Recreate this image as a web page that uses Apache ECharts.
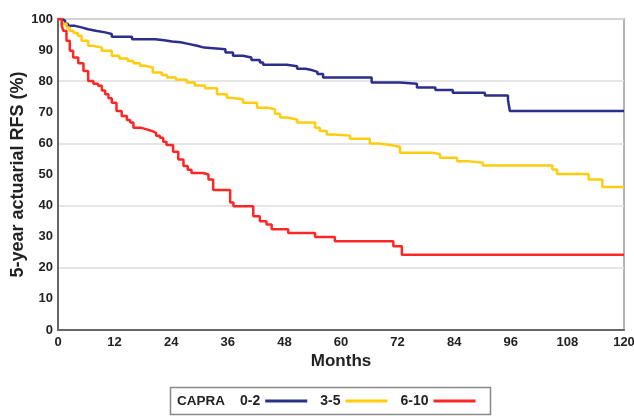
<!DOCTYPE html>
<html>
<head>
<meta charset="utf-8">
<script src="https://cdn.jsdelivr.net/npm/echarts@6/dist/echarts.min.js"></script>
<style>
html,body{margin:0;padding:0;background:#fff;}
#chart{width:634px;height:416px;}
</style>
</head>
<body>
<div id="chart"></div>
<script>
// X tick labels (months) and Y tick labels (%)
var xTicks = [0, 12, 24, 36, 48, 60, 72, 84, 96, 108, 120];
var yTicks = [0, 10, 20, 30, 40, 50, 60, 70, 80, 90, 100];
var seriesNames = ['0-2', '3-5', '6-10'];

// CAPRA 0-2 : [month, RFS %]
var capra02 = [[0,100],[0.8,99.5],[1.5,98.5],[2.1,97.8],[3.6,97.3],[5,96.7],[6.4,96.2],[8,95.7],[10,95.2],[11.4,94.3],[15.7,93.5],[20.6,93.2],[22.5,92.8],[24.2,92.5],[26,92],[27.6,91.4],[29.5,90.8],[31,90.3],[35.5,89.2],[37.1,88.2],[39.2,87.6],[41,86.8],[42.8,86],[43.5,85.3],[48.5,84.8],[50.7,84],[52.5,83.5],[54,83],[55,82.3],[56.2,81.2],[66.5,79.6],[72.5,79.2],[76.1,78],[80,77.2],[83.7,76.3],[90.5,75.4],[95.4,74],[95.8,70.4],[120,70.4]];

// CAPRA 3-5
var capra35 = [[0,100],[0.8,98.5],[1.8,97.3],[2.5,96.2],[3.3,95.5],[4.2,94.6],[5,93],[6.4,91.4],[7.4,90.8],[9.3,89.8],[11.4,88.2],[13,87.3],[14.8,86.5],[16,85.8],[17.4,85],[18.4,84.4],[20.1,82.8],[22,82],[23.1,81.2],[25,80.5],[27.3,79.6],[29,78.6],[31.2,77.7],[33.7,75.8],[35.8,74.7],[36.5,74.2],[39.2,73.1],[42.2,71.5],[44.3,71],[46,69.5],[47.1,68.3],[48.5,67.7],[50.7,66.7],[54.5,65],[55.5,64],[57,62.9],[58.3,62.5],[61.9,61.5],[66.1,60],[68,59.5],[70.4,58.9],[72.5,57],[79.5,56.5],[81,55.4],[84.6,54.3],[86.7,53.8],[90.1,52.9],[104.8,51.6],[105.8,50.2],[112.5,48.4],[115.4,46],[120,46]];

// CAPRA 6-10
var capra610 = [[0,100],[0.8,98],[1.1,96.2],[1.8,93],[2.5,89.8],[3.2,87.6],[4.3,85.8],[5.4,83.3],[6.4,80.1],[7.5,79.2],[8.5,78.5],[9.3,77],[10,75.8],[10.7,74.5],[11.4,73.1],[12.4,70.4],[13.5,68.8],[14.6,67.5],[15.3,66.7],[16,65],[17.7,64.5],[18.8,64],[19.9,63.4],[20.8,62.5],[21.6,61.8],[22.3,60.5],[23,59.5],[24.4,57.3],[25.5,54.8],[26.6,52.7],[27.5,51.5],[28.3,50.5],[30.8,50],[31.9,48.4],[32.9,45],[36.5,41],[37.2,39.8],[41.4,36.6],[42.8,35],[44.2,33.9],[45.3,32.4],[48.8,31.2],[54.5,29.9],[58.7,28.5],[71.1,26.9],[72.9,24.2],[120,24.2]];

var colors = ['#2b2e8a', '#ffcc0f', '#ff2626'];
var FONT = '"Liberation Sans", Arial, sans-serif';

var chart = echarts.init(document.getElementById('chart'), null, {renderer: 'canvas'});

function mkSeries(name, data, color) {
  return {
    name: name, type: 'line', step: 'end', data: data, symbol: 'none',
    xAxisIndex: 0, yAxisIndex: 0,
    lineStyle: {color: color, width: 2.5}, itemStyle: {color: color},
    animation: false, z: 3
  };
}

var option = {
  animation: false,
  backgroundColor: '#fff',
  grid: {left: 58, right: 10, top: 19, bottom: 86, containLabel: false, outerBoundsMode: 'none',
         show: true, borderColor: '#999', borderWidth: 1.5, backgroundColor: 'transparent'},
  xAxis: [{
    type: 'value', min: xTicks[0], max: xTicks[xTicks.length - 1], interval: 12,
    name: 'Months', nameLocation: 'middle', nameGap: 23, nameMoveOverlap: false,
    nameTextStyle: {fontFamily: FONT, fontWeight: 'bold', fontSize: 17, color: '#222'},
    axisLine: {show: true, onZero: false, lineStyle: {color: '#666', width: 2}},
    axisTick: {show: false},
    axisLabel: {fontFamily: FONT, fontWeight: 'bold', fontSize: 13, color: '#222', margin: 6},
    splitLine: {show: false}
  }],
  yAxis: [{
    type: 'value', min: yTicks[0], max: yTicks[yTicks.length - 1], interval: 10,
    name: '5-year actuarial RFS (%)', nameLocation: 'middle', nameGap: 31, nameMoveOverlap: false,
    nameTextStyle: {fontFamily: FONT, fontWeight: 'bold', fontSize: 18, color: '#222'},
    axisLine: {show: true, onZero: false, lineStyle: {color: '#666', width: 2}},
    axisTick: {show: false},
    axisLabel: {fontFamily: FONT, fontWeight: 'bold', fontSize: 13, color: '#222', margin: 5},
    splitLine: {show: false}
  }, {
    type: 'value', min: yTicks[0], max: yTicks[yTicks.length - 1], interval: 20, position: 'left',
    axisLine: {show: false}, axisTick: {show: false}, axisLabel: {show: false},
    splitLine: {show: true, lineStyle: {color: '#dcdcdc', width: 1.5}}
  }],
  legend: {
    data: seriesNames, left: 240, top: 394, orient: 'horizontal', align: 'right',
    icon: 'rect', itemWidth: 42, itemHeight: 3, itemGap: 13,
    textStyle: {fontFamily: FONT, fontWeight: 'bold', fontSize: 14, color: '#222'},
    padding: 0
  },
  graphic: [
    {type: 'rect', left: 168, top: 385, shape: {width: 320, height: 27}, style: {fill: 'none', stroke: '#888', lineWidth: 1.5}, silent: true},
    {type: 'text', left: 177, top: 394, style: {text: 'CAPRA', font: 'bold 13.5px ' + FONT, fill: '#222'}, silent: true}
  ],
  series: [
    mkSeries(seriesNames[0], capra02, colors[0]),
    mkSeries(seriesNames[1], capra35, colors[1]),
    mkSeries(seriesNames[2], capra610, colors[2])
  ]
};
chart.setOption(option);
</script>
</body>
</html>
